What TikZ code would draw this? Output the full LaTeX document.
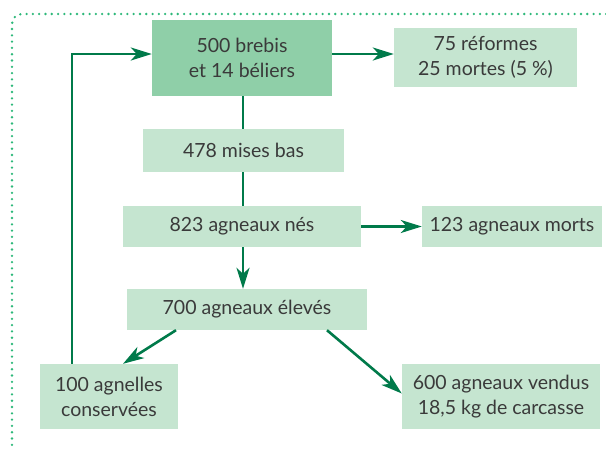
\documentclass[tikz,border=0pt]{standalone}
\usepackage{fontspec}
\setmainfont{Lato}
\usetikzlibrary{arrows.meta,calc}
\definecolor{arrowgreen}{HTML}{007A4A}
\definecolor{lightbox}{HTML}{C5E5D0}
\definecolor{darkbox}{HTML}{8FCFA8}
\definecolor{dotgreen}{HTML}{2DB87A}
\definecolor{txt}{HTML}{3A3A3A}
\tikzset{
  box/.style={fill=lightbox, text=txt, inner sep=0pt, align=center,
    font=\fontsize{19.5}{25}\selectfont},
  mainbox/.style={box, fill=darkbox},
  conn/.style={draw=arrowgreen, line width=2.6pt},
  arr/.style={conn, -{Stealth[length=21pt,width=13pt,inset=6pt]}},
}
\begin{document}
\begin{tikzpicture}[x=1pt,y=-1pt]
\useasboundingbox (0,0) rectangle (606,450);
\begin{scope}
\clip (0,0) rectangle (606,450);
\draw[dotgreen, line width=2.6pt, line cap=round, dash pattern=on 0pt off 6.3pt, rounded corners=10pt]
  (12,470) -- (12,14) -- (640,14);
\end{scope}
\node[mainbox, minimum width=180pt, minimum height=76pt] (top) at (242,58) {500 brebis\\et 14 béliers};
\node[box, minimum width=183pt, minimum height=59pt] (ref) at (485.5,57.5) {75 réformes\\25 mortes (5 \%)};
\node[box, minimum width=201pt, minimum height=43pt] (mises) at (243.5,150.5) {478 mises bas};
\node[box, minimum width=238pt, minimum height=41pt] (nes) at (242,226.5) {823 agneaux nés};
\node[box, minimum width=180pt, minimum height=41pt] (morts) at (512,226.5) {123 agneaux morts};
\node[box, minimum width=240pt, minimum height=41pt] (eleves) at (247,309.5) {700 agneaux élevés};
\node[box, minimum width=138pt, minimum height=65pt] (agnelles) at (109,396.5) {100 agnelles\\conservées};
\node[box, minimum width=198pt, minimum height=65pt] (vendus) at (501,396.5) {600 agneaux vendus\\18,5 kg de carcasse};

\draw[arr] ([yshift=4pt]top.east) -- ([yshift=4pt]top.east -| ref.west);
\draw[conn] (top.south -| 243,0) -- (mises.north -| 243,0);
\draw[conn] (mises.south -| 243,0) -- (nes.north -| 243,0);
\draw[arr] (nes.south -| 243,0) -- (eleves.north -| 243,0);
\draw[arr] (nes.east) -- (morts.west);
\draw[arr] ($(eleves.south)+(-71,0)$) -- ($(agnelles.north)+(14,0)$);
\draw[arr] ($(eleves.south)+(80,0)$) -- ($(vendus.west)+(0,-3)$);
\draw[arr] ($(agnelles.north west)+(32,0)$) |- ([yshift=4pt]top.west);
\end{tikzpicture}
\end{document}
